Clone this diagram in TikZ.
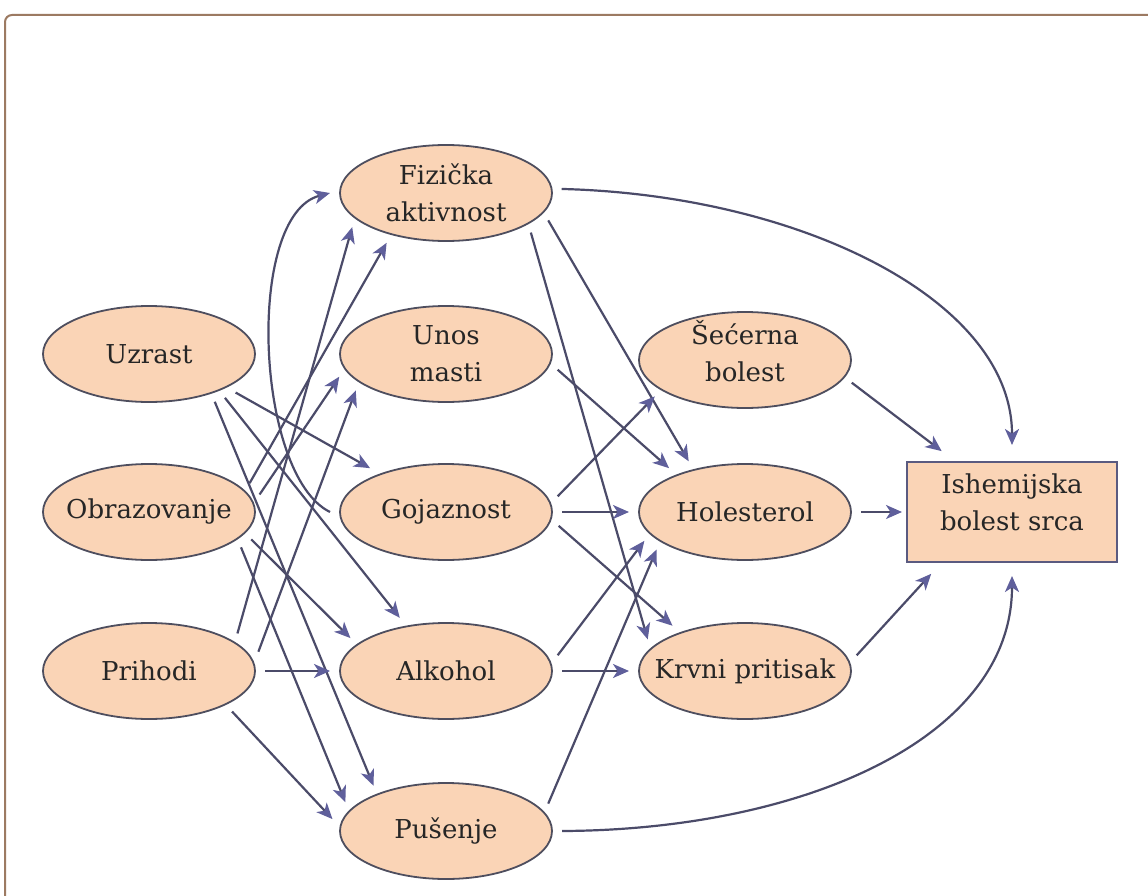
\documentclass[tikz,border=0pt]{standalone}
\usepackage{fontspec}
\setmainfont{DejaVu Serif}
\usetikzlibrary{arrows.meta,shapes.geometric}
\definecolor{peach}{HTML}{FAD4B6}
\definecolor{edgecol}{HTML}{4B4B69}
\definecolor{tipcol}{HTML}{5F5F9B}
\definecolor{rimcol}{HTML}{4E4E5E}
\definecolor{boxrim}{HTML}{5A5A80}
\definecolor{framecol}{HTML}{9C7A62}
\begin{document}
\begin{tikzpicture}[x=1pt,y=-1pt,
  font=\fontsize{26}{37}\selectfont,
  ell/.style={ellipse, draw=rimcol, line width=1.8pt, fill=peach,
    minimum width=212pt, minimum height=96pt, inner sep=0pt, outer sep=10pt},
  boxn/.style={rectangle, draw=boxrim, line width=2pt, fill=peach,
    minimum width=210pt, minimum height=100pt, inner sep=0pt, outer sep=0pt},
  every label/.style={align=center, inner sep=0pt, text=black!85},
  arr/.style={draw=edgecol, line width=2.2pt,
    -{Stealth[length=16pt,width=14pt,inset=4.5pt,color=tipcol]}},
]
\useasboundingbox (0,0) rectangle (1148,896);
\clip (0,0) rectangle (1148,896);
\fill[white] (0,0) rectangle (1148,896);
\draw[framecol, line width=2pt, rounded corners=7pt] (1170,15) -- (5,15) -- (5,920);

% left column
\node[ell, label=center:Uzrast] (uz) at (149,354) {};
\node[ell, label=center:Obrazovanje] (ob) at (149,512) {};
\node[ell, label=center:Prihodi] (pr) at (149,671) {};
% middle column
\node[ell, label={center:{Fizička\\aktivnost}}] (fiz) at (446,193) {};
\node[ell, label={center:{Unos\\masti}}] (un) at (446,354) {};
\node[ell, label=center:Gojaznost] (goj) at (446,512) {};
\node[ell, label=center:Alkohol] (alk) at (446,671) {};
\node[ell, label=center:Pušenje] (pus) at (446,831) {};
% right column
\node[ell, label={[yshift=9pt]center:{Šećerna\\bolest}}] (sec) at (745,360) {};
\node[ell, label=center:Holesterol] (hol) at (745,512) {};
\node[ell, label=center:Krvni pritisak] (krv) at (745,671) {};
% outcome
\node[boxn, label={[yshift=10pt]center:{Ishemijska\\bolest srca}}] (box) at (1012,512) {};

% left -> middle
\draw[arr] (uz.-24) -- (goj.150);
\draw[arr] (uz.-30) -- (alk.131);
\draw[arr] (uz.-36) -- (pus.148);
\draw[arr] (ob.16) -- (fiz.-140);
\draw[arr] (ob.9) -- (un.-168);
\draw[arr] (ob.-15) -- (alk.161);
\draw[arr] (ob.-21) -- (pus.164);
\draw[arr] (pr.23) -- (fiz.-160);
\draw[arr] (pr.10) -- (un.-158);
\draw[arr] (pr.0) -- (alk.180);
\draw[arr] (pr.-26) -- (pus.174);
\draw[arr] (goj.180) .. controls (255,475) and (245,215) .. (fiz.180);

% middle -> right
\draw[arr] (fiz.-15) -- (hol.138);
\draw[arr] (fiz.-25) -- (krv.162);
\draw[arr] (un.-8) -- (hol.150);
\draw[arr] (goj.8) -- (sec.-158);
\draw[arr] (goj.0) -- (hol.180);
\draw[arr] (goj.-7) -- (krv.148);
\draw[arr] (alk.8) -- (hol.-164);
\draw[arr] (alk.0) -- (krv.180);
\draw[arr] (pus.15) -- (hol.-157);

% -> outcome
\draw[arr, shorten >=17pt] (fiz.2) .. controls (800,195) and (1012,300) .. (box.north);
\draw[arr, shorten >=14pt] (pus.0) .. controls (800,830) and (1012,740) .. (box.south);
\draw[arr, shorten >=18pt] (sec.-12) -- ([xshift=49pt]box.north west);
\draw[arr, shorten >=5pt] (hol) -- (box);
\draw[arr, shorten >=16pt] (krv.8) -- ([xshift=35pt]box.south west);
\end{tikzpicture}
\end{document}
